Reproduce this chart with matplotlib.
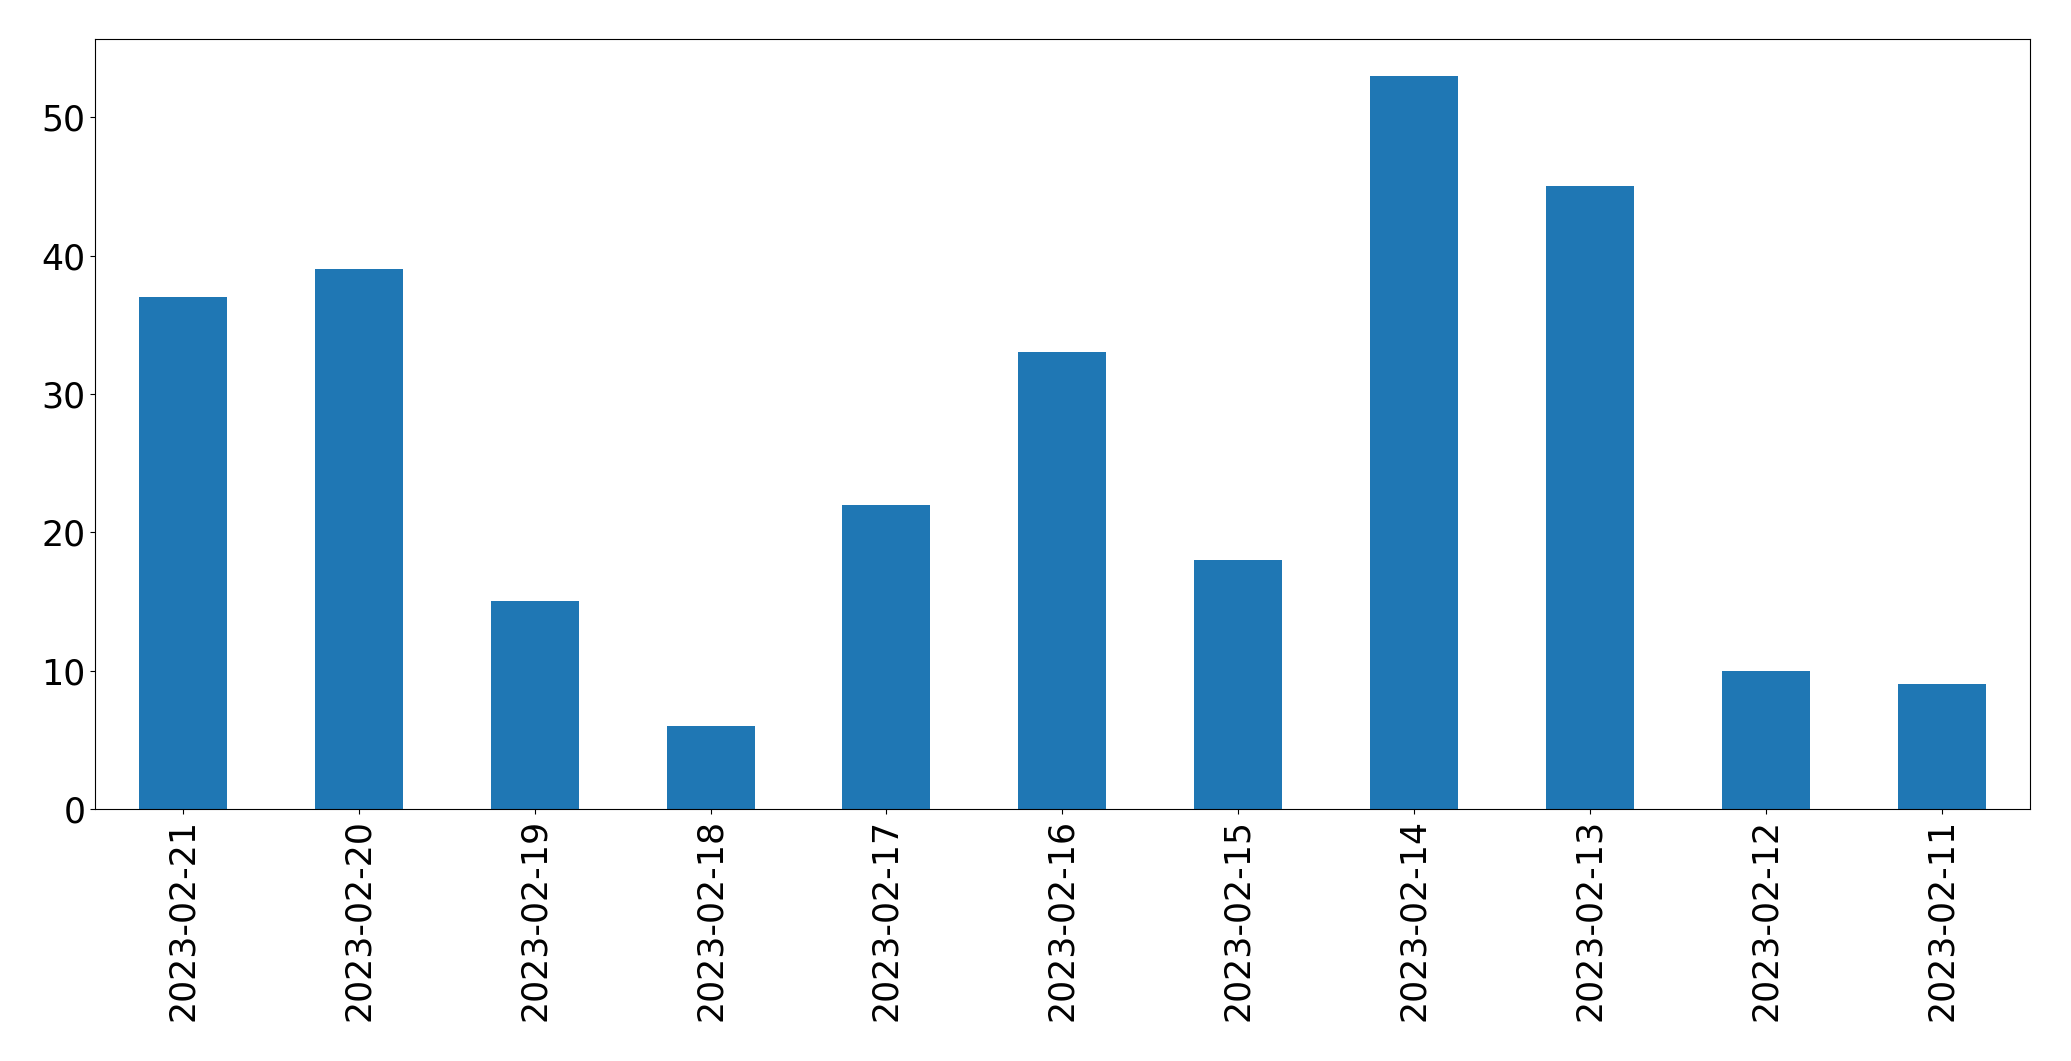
import matplotlib
matplotlib.use("Agg")
import matplotlib.pyplot as plt
import numpy as np

# Данные для графика
dates = ["2023-02-21", "2023-02-20", "2023-02-19", "2023-02-18", "2023-02-17",
         "2023-02-16", "2023-02-15", "2023-02-14", "2023-02-13", "2023-02-12",
         "2023-02-11"]
counts = [37, 39, 15, 6, 22, 33, 18, 53, 45, 10, 9]


def plot_chart():
    fig, ax = plt.subplots(figsize=(20.71, 10.61), dpi=100)
    x = np.arange(len(dates))
    ax.bar(x, counts, width=0.5, color="#1f77b4")
    ax.set_xticks(x)
    ax.set_xticklabels(dates, rotation=90)
    ax.set_xlim(-0.5, len(dates) - 0.5)
    ax.set_ylim(0, max(counts) * 1.05)
    ax.tick_params(labelsize=25)
    fig.subplots_adjust(left=0.0459, right=0.980, top=0.9632, bottom=0.2375)
    fig.savefig("out.png", dpi=100)


plot_chart()
